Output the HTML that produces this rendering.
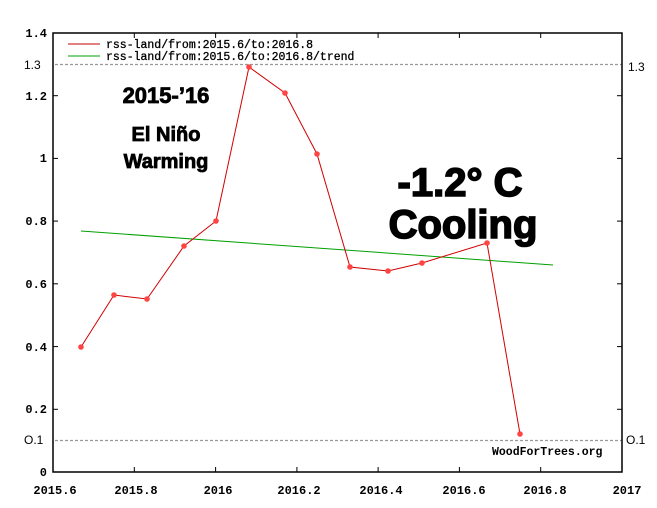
<!DOCTYPE html>
<html><head><style>body{margin:0;background:#fff}svg{display:block}</style></head><body>
<svg width="657" height="508" xmlns="http://www.w3.org/2000/svg" font-family="Liberation Mono, monospace">
<rect width="657" height="508" fill="#fff"/>
<g stroke="#999" stroke-width="1.3" stroke-dasharray="3,2">
<line x1="55" y1="64.5" x2="622" y2="64.5"/>
<line x1="55" y1="440.5" x2="622" y2="440.5"/>
</g>
<rect x="53" y="33" width="569" height="439" fill="none" stroke="#000" stroke-width="1.5"/>
<g stroke="#000" stroke-width="1">
<line x1="53" y1="409.3" x2="58" y2="409.3"/><line x1="53" y1="346.6" x2="58" y2="346.6"/><line x1="53" y1="283.8" x2="58" y2="283.8"/><line x1="53" y1="221.1" x2="58" y2="221.1"/><line x1="53" y1="158.4" x2="58" y2="158.4"/><line x1="53" y1="95.7" x2="58" y2="95.7"/>
<line x1="617" y1="409.3" x2="622" y2="409.3"/><line x1="617" y1="346.6" x2="622" y2="346.6"/><line x1="617" y1="283.8" x2="622" y2="283.8"/><line x1="617" y1="221.1" x2="622" y2="221.1"/><line x1="617" y1="158.4" x2="622" y2="158.4"/><line x1="617" y1="95.7" x2="622" y2="95.7"/>
<line x1="134.3" y1="472" x2="134.3" y2="467"/><line x1="215.6" y1="472" x2="215.6" y2="467"/><line x1="296.9" y1="472" x2="296.9" y2="467"/><line x1="378.1" y1="472" x2="378.1" y2="467"/><line x1="459.4" y1="472" x2="459.4" y2="467"/><line x1="540.7" y1="472" x2="540.7" y2="467"/>
<line x1="134.3" y1="33" x2="134.3" y2="38"/><line x1="215.6" y1="33" x2="215.6" y2="38"/><line x1="296.9" y1="33" x2="296.9" y2="38"/><line x1="378.1" y1="33" x2="378.1" y2="38"/><line x1="459.4" y1="33" x2="459.4" y2="38"/><line x1="540.7" y1="33" x2="540.7" y2="38"/>
</g>
<g font-size="12" font-weight="bold" text-anchor="end">
<text x="47" y="476">0</text><text x="47" y="413">0.2</text><text x="47" y="351">0.4</text><text x="47" y="288">0.6</text><text x="47" y="225">0.8</text><text x="47" y="162">1</text><text x="47" y="100">1.2</text><text x="47" y="37">1.4</text>
</g>
<g font-size="12" font-family="Liberation Sans, sans-serif">
<text x="24" y="69">1.3</text><text x="24" y="444">O.1</text>
<text x="628" y="71">1.3</text><text x="626" y="444">O.1</text>
</g>
<g font-size="12" font-weight="bold" text-anchor="middle">
<text x="55" y="494">2015.6</text><text x="136" y="494">2015.8</text><text x="218" y="494">2016</text><text x="299" y="494">2016.2</text><text x="381" y="494">2016.4</text><text x="464" y="494">2016.6</text><text x="545" y="494">2016.8</text><text x="627" y="494">2017</text>
</g>
<line x1="68" y1="44" x2="100" y2="44" stroke="#c00000"/>
<line x1="68" y1="56" x2="100" y2="56" stroke="#00a000"/>
<g font-size="11.5" stroke="#000" stroke-width="0.3"><text x="106" y="48">rss-land/from:2015.6/to:2016.8</text><text x="106" y="60">rss-land/from:2015.6/to:2016.8/trend</text></g>
<line x1="81" y1="231" x2="553" y2="265" stroke="#00a000" stroke-width="1"/>
<polyline fill="none" stroke="#d00000" stroke-width="1" points="81,347 114,295 147,299 184,246 216,221 249,67 285,93 317,154 350,267 388,271 422,263 487,243 520,434"/>
<g fill="#f44">
<circle cx="81" cy="347" r="2.8"/><circle cx="114" cy="295" r="2.8"/><circle cx="147" cy="299" r="2.8"/><circle cx="184" cy="246" r="2.8"/><circle cx="216" cy="221" r="2.8"/><circle cx="249" cy="67" r="2.8"/><circle cx="285" cy="93" r="2.8"/><circle cx="317" cy="154" r="2.8"/><circle cx="350" cy="267" r="2.8"/><circle cx="388" cy="271" r="2.8"/><circle cx="422" cy="263" r="2.8"/><circle cx="487" cy="243" r="2.8"/><circle cx="520" cy="434" r="2.8"/>
</g>
<text x="492" y="455" font-size="11.5" font-weight="bold">WoodForTrees.org</text>
<g font-family="Liberation Sans, sans-serif" font-weight="bold" fill="#000" stroke="#000" text-anchor="middle">
<text x="166" y="103" font-size="22" stroke-width="0.8">2015-’16</text>
<text x="166" y="141" font-size="20" stroke-width="0.8">El Niño</text>
<text x="166" y="168" font-size="20" stroke-width="0.8">Warming</text>
<text x="460" y="196" font-size="40" stroke-width="1.6">-1.2° C</text>
<text x="463" y="238" font-size="40" stroke-width="1.6">Cooling</text>
</g>
</svg>
</body></html>
